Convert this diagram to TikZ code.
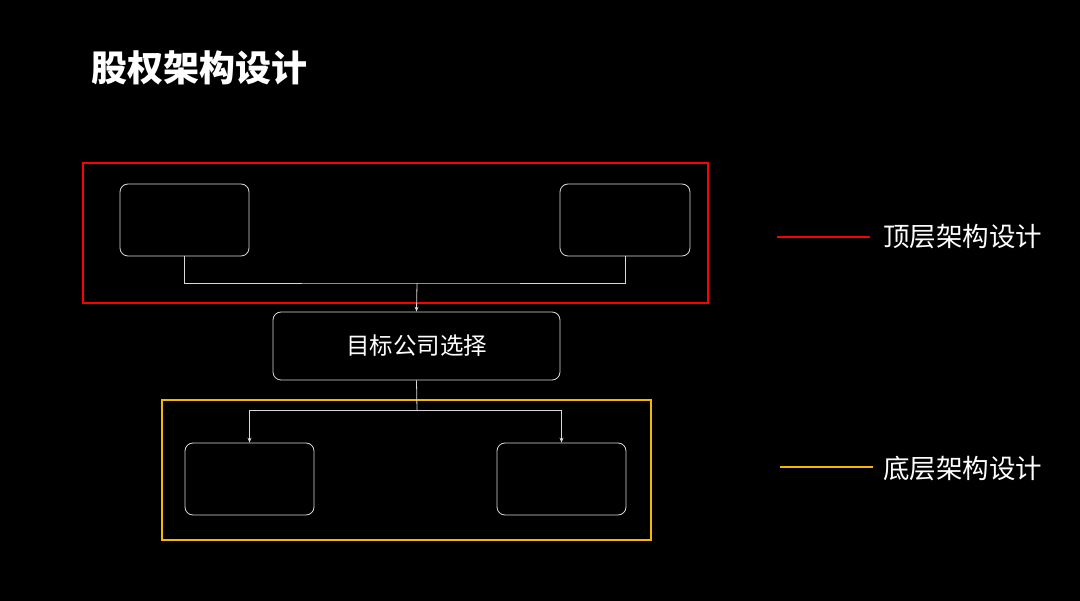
\documentclass[tikz,border=0pt]{standalone}
\usepackage{fontspec}
\newfontfamily\cjk{Noto Sans CJK SC}
\usetikzlibrary{arrows.meta}
\begin{document}
\begin{tikzpicture}[x=1pt,y=-1pt,
  box/.style={draw=white!85!black,rounded corners=8pt,line width=0.8pt},
  conn/.style={draw=white!85!black,line width=0.8pt},
  arr/.style={conn,-{Stealth[length=5pt,width=4pt]}},
  lbl/.style={text=white,font=\cjk\fontsize{26.5pt}{30pt}\selectfont,anchor=west,inner sep=0}]
\fill[black] (0,0) rectangle (1080,601);
\useasboundingbox (0,0) rectangle (1080,601);
\node[text=white,font=\cjk\bfseries\fontsize{36pt}{40pt}\selectfont,anchor=west,inner sep=0] (title) at (91,68) {股权架构设计};
\draw[red,line width=2pt] (83,163) rectangle (708,303);
\draw[draw={rgb,255:red,245;green,184;blue,0},line width=2pt] (162,400) rectangle (651,540);
\node[box,minimum width=129pt,minimum height=72pt] (tl) at (184.5,220) {};
\node[box,minimum width=130pt,minimum height=72pt] (tr) at (625,220) {};
\node[box,minimum width=287pt,minimum height=68pt,text=white,font=\cjk\fontsize{23.5pt}{26pt}\selectfont] (mid) at (416.5,346) {目标公司选择};
\node[box,minimum width=129pt,minimum height=72pt] (bl) at (249.5,479) {};
\node[box,minimum width=129pt,minimum height=72pt] (br) at (561.5,479) {};
\coordinate (j) at (417,283);
\draw[conn] (tl.south) |- (j) -| (tr.south);
\draw[arr] (j) -- (mid.north);
\coordinate (k) at (417,410);
\draw[conn] (mid.south) -- (k);
\draw[arr] (k) -| (bl.north);
\draw[arr] (k) -| (br.north);
\coordinate (r1) at (777,237); \coordinate (r2) at (870,237);
\draw[red,line width=2pt] (r1) -- (r2);
\node[lbl] (t1) at (883,237) {顶层架构设计};
\coordinate (y1) at (780,467); \coordinate (y2) at (873,467);
\draw[draw={rgb,255:red,245;green,184;blue,0},line width=2pt] (y1) -- (y2);
\node[lbl] (t2) at (883,469) {底层架构设计};
\end{tikzpicture}
\end{document}
